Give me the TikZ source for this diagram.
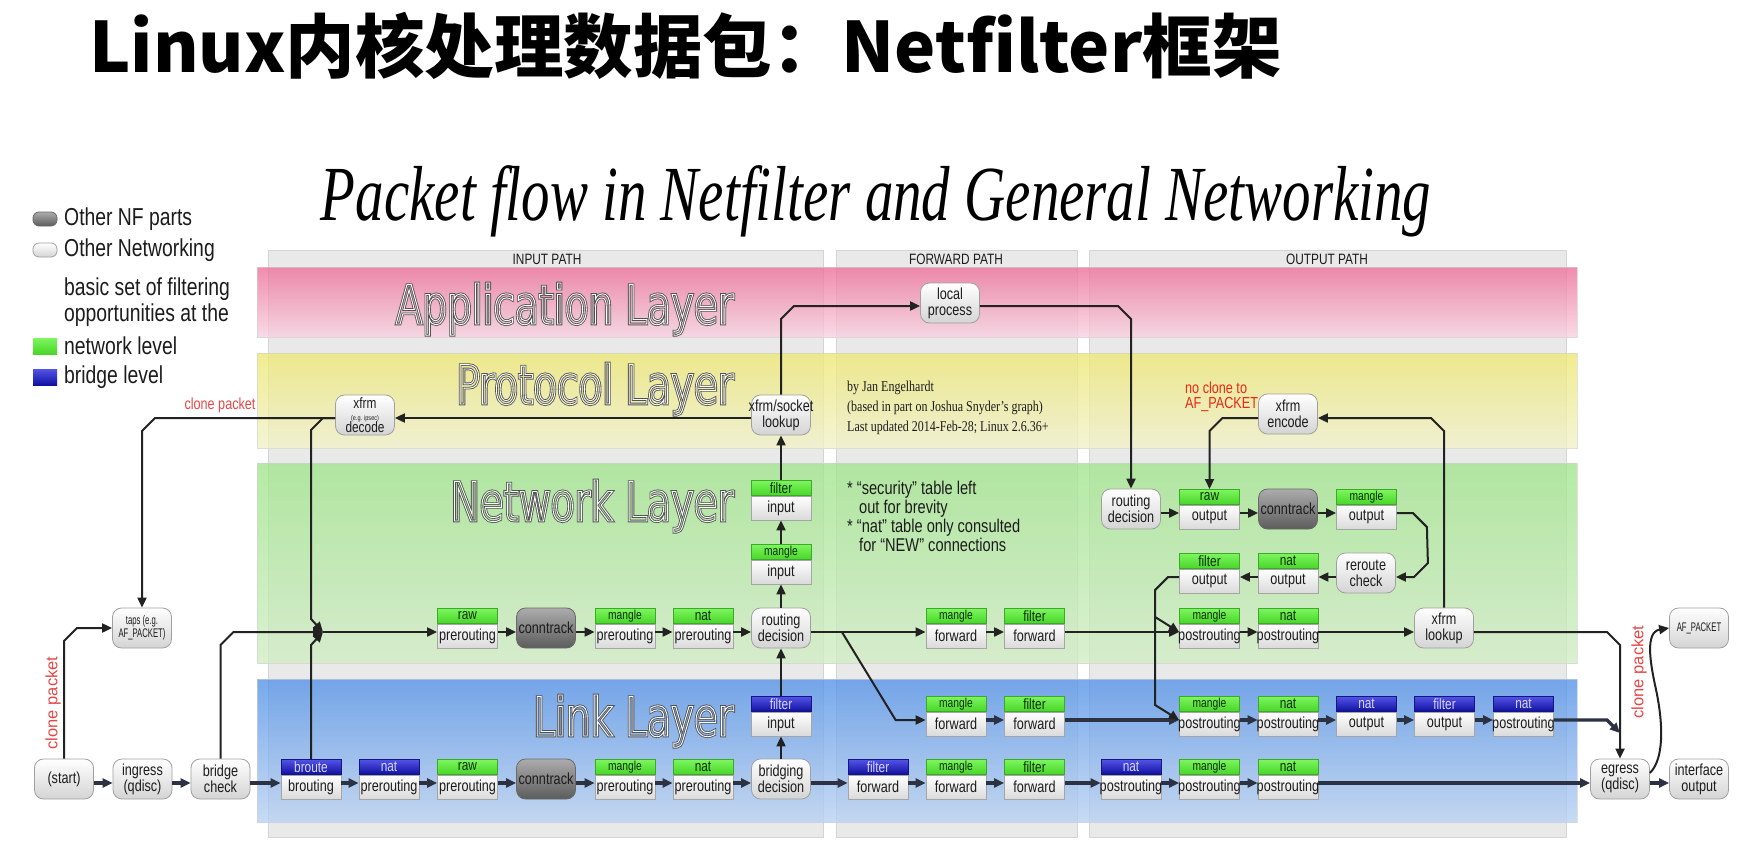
\documentclass[tikz,border=0pt]{standalone}
\usepackage{fontspec}
\setmainfont{Liberation Sans}[FakeStretch=0.79]
\newfontfamily\layerfont{DejaVu Sans}[FakeStretch=0.72]
\newfontfamily\plainsans{Liberation Sans}
\newfontfamily\serifc{Liberation Serif}[FakeStretch=0.8]
\newfontfamily\subfont{Liberation Serif}[FakeStretch=0.73]
\newfontfamily\cjk{Noto Sans CJK SC}
\usetikzlibrary{arrows.meta,positioning,calc}
\newcommand\setfs[2]{\fontsize{#1}{#2}\selectfont}
\newcommand\mgl{\setfs{13}{13}}
\newcommand\outl[1]{\rlap{\special{pdf:literal direct 1 Tr 2.6 w 0.32 0.32 0.32 RG}#1}\special{pdf:literal direct 1 Tr 0.9 w 1 1 1 RG}#1\special{pdf:literal direct 0 Tr 0.4 w}}
% body centre sits 4 below the row line, as in the reference
\newcommand\chainbox[6]{%
  \node[bodyb] (#1) at (#2,#3+4) {\makebox[52pt]{#5}};
  \node[#6, above=0pt of #1] (#1h) {\makebox[52pt]{#4}};}
\definecolor{linec}{RGB}{34,34,34}
\definecolor{linel}{RGB}{44,50,66}
\definecolor{clonered}{RGB}{228,72,72}
\definecolor{nored}{RGB}{236,40,20}
\definecolor{txt}{RGB}{28,28,28}
\definecolor{appT}{RGB}{237,112,154}
\definecolor{appB}{RGB}{248,210,224}
\definecolor{proT}{RGB}{237,232,117}
\definecolor{proB}{RGB}{242,242,204}
\definecolor{netT}{RGB}{162,229,142}
\definecolor{netB}{RGB}{210,237,198}
\definecolor{linT}{RGB}{86,148,232}
\definecolor{linB}{RGB}{186,210,242}
\definecolor{grT}{RGB}{125,246,95}
\definecolor{grB}{RGB}{72,214,40}
\definecolor{blT}{RGB}{84,84,232}
\definecolor{blB}{RGB}{16,16,160}
\definecolor{frame}{RGB}{233,233,233}
\definecolor{frameb}{RGB}{212,212,212}
\tikzset{
  ln/.style={draw=linec, line width=2pt},
  arr/.style={ln, -{Triangle[length=10pt,width=9pt]}},
  tarr/.style={arr, line width=3.2pt, draw=linel},
  pill/.style={rounded corners=9pt, draw={rgb,255:red,160;green,160;blue,160}, line width=0.8pt,
    top color=white, bottom color={rgb,255:red,212;green,212;blue,212},
    minimum width=59pt, minimum height=40pt, inner sep=0pt, align=center,
    font=\setfs{16}{16}, text=txt},
  dpill/.style={pill, top color={rgb,255:red,172;green,172;blue,172},
    bottom color={rgb,255:red,92;green,92;blue,92}, draw={rgb,255:red,105;green,105;blue,105}},
  bodyb/.style={rectangle, draw={rgb,255:red,165;green,165;blue,165}, line width=0.8pt,
    top color=white, bottom color={rgb,255:red,218;green,218;blue,218},
    minimum width=60pt, minimum height=24pt, inner sep=0pt, font=\setfs{16}{16}, text=txt},
  ghead/.style={rectangle, draw={rgb,255:red,60;green,170;blue,40}, line width=0.6pt,
    top color=grT, bottom color=grB, minimum width=60pt, minimum height=15pt,
    inner sep=0pt, font=\setfs{15}{15}, text={rgb,255:red,15;green,45;blue,10}},
  bhead/.style={ghead, draw={rgb,255:red,20;green,20;blue,130}, top color=blT, bottom color=blB,
    text={rgb,255:red,215;green,215;blue,255}},
  framebox/.style={fill=frame, draw=frameb, line width=1pt},
  band/.style={fill opacity=0.8, draw=black!18, draw opacity=0.6, line width=0.8pt},
  layerlbl/.style={anchor=base east, inner sep=0pt, font=\layerfont\setfs{54}{54}, text=black!55},
  pathlbl/.style={inner sep=0pt, font=\setfs{15}{15}, text=txt},
  legtxt/.style={anchor=west, inner sep=0pt, font=\setfs{24.5}{25.5}, text=txt, align=left},
}
\begin{document}
\begin{tikzpicture}[x=1pt,y=-1pt]
\useasboundingbox (0,0) rectangle (1751,864);
\fill[white] (0,0) rectangle (1751,864);
% row lines
\coordinate (rL1) at (0,783);
\coordinate (rL2) at (0,720);
\coordinate (rN1) at (0,632);
\coordinate (rN2) at (0,577);
\coordinate (rN3) at (0,513);

% titles
\node[anchor=base west, inner sep=0pt, font=\cjk\bfseries\setfs{69.5}{69.5}] (title) at (89,73) {Linux内核处理数据包：Netfilter框架};
\node[anchor=base, inner sep=0pt, font=\subfont\itshape\setfs{78}{78}] (subtitle) at (876,220) {Packet flow in Netfilter and General Networking};

% legend
\node[dpill, rounded corners=6pt, minimum width=24pt, minimum height=14pt] (legnf) at (45,219) {};
\node[pill, rounded corners=6pt, minimum width=24pt, minimum height=14pt] (legnet) at (45,250) {};
\node[rectangle, top color=grT, bottom color=grB, minimum width=24pt, minimum height=16pt, inner sep=0pt] (leggr) at (45,346) {};
\node[rectangle, top color=blT, bottom color=blB, minimum width=24pt, minimum height=16pt, inner sep=0pt] (legbl) at (45,377) {};
\node[legtxt] (lt1) at (64,219) {Other NF parts};
\node[legtxt] (lt2) at (64,250) {Other Networking};
\node[legtxt] (lt3) at (64,302) {basic set of filtering\\opportunities at the};
\node[legtxt] (lt4) at (64,346) {network level};
\node[legtxt] (lt5) at (64,377) {bridge level};

% path frames
\draw[framebox] (268,250) rectangle (823,837);
\draw[framebox] (836,250) rectangle (1077,837);
\draw[framebox] (1089,250) rectangle (1566,837);
\node[pathlbl] (ipath) at (547,259) {INPUT PATH};
\node[pathlbl] (fpath) at (956,259) {FORWARD PATH};
\node[pathlbl] (opath) at (1327,259) {OUTPUT PATH};

% layer bands
\path[band, top color=appT, bottom color=appB] (257,267) rectangle (1577,337);
\path[band, top color=proT, bottom color=proB] (257,353) rectangle (1577,448);
\path[band, top color=netT, bottom color=netB] (257,463) rectangle (1577,663);
\path[band, top color=linT, bottom color=linB] (257,679) rectangle (1577,822);

\node[layerlbl] (lapp) at (734,324) {\outl{Application Layer}};
\node[layerlbl] (lpro) at (734,404) {\outl{Protocol Layer}};
\node[layerlbl] (lnet) at (734,521) {\outl{Network Layer}};
\node[layerlbl] (llin) at (734,736) {\outl{Link Layer}};

% texts
\node[anchor=north west, align=left, inner sep=0pt, font=\serifc\setfs{15}{20}, text=txt] (credit) at (847,381)
  {by Jan Engelhardt\\(based in part on Joshua Snyder’s graph)\\Last updated 2014-Feb-28; Linux 2.6.36+};
\node[anchor=north west, align=left, inner sep=0pt, font=\setfs{18.5}{19}, text=txt] (notes) at (847,481)
  {* “security” table left\\\hspace*{12pt}out for brevity\\* “nat” table only consulted\\\hspace*{12pt}for “NEW” connections};
\node[anchor=north west, align=left, inner sep=0pt, font=\setfs{16}{15}, text=nored] (noclone) at (1185,382) {no clone to\\AF\_PACKET};
\node[inner sep=0pt, font=\setfs{16}{16}, text=clonered] (clone0) at (220,405) {clone packet};
\node[rotate=90, inner sep=0pt, font=\plainsans\setfs{16.5}{16.5}, text=clonered] (clone1) at (53,703) {clone packet};
\node[rotate=90, inner sep=0pt, font=\plainsans\setfs{16.5}{16.5}, text=clonered] (clone2) at (1639,672) {clone packet};

% ---------- nodes ----------
% link row 1
\node[pill] (start) at (64,779) {(start)};
\node[pill] (ingress) at (142.5,779) {ingress\\(qdisc)};
\node[pill] (bridge) at (220.5,779) {bridge\\check};
\chainbox{brout}{311}{783}{broute}{brouting}{bhead}
\chainbox{natpreB}{389}{783}{nat}{prerouting}{bhead}
\chainbox{rawpreL}{467.5}{783}{raw}{prerouting}{ghead}
\node[dpill] (ctL) at (546,779) {conntrack};
\chainbox{mglpreL}{625}{783}{\mgl mangle}{prerouting}{ghead}
\chainbox{natpreL}{703}{783}{nat}{prerouting}{ghead}
\node[pill] (bridging) at (781,779) {bridging\\decision};
\chainbox{fltfwdB}{878}{783}{filter}{forward}{bhead}
\chainbox{mglfwdL}{956}{783}{\mgl mangle}{forward}{ghead}
\chainbox{fltfwdL}{1034.5}{783}{filter}{forward}{ghead}
\chainbox{natpostB}{1131}{783}{nat}{postrouting}{bhead}
\chainbox{mglpostL}{1209.5}{783}{\mgl mangle}{postrouting}{ghead}
\chainbox{natpostL}{1288}{783}{nat}{postrouting}{ghead}
\node[pill] (egress) at (1620,779) {egress\\(qdisc)};
\node[pill] (ifout) at (1699,779) {interface\\output};
% link row 2
\chainbox{fltinB}{781}{720}{filter}{input}{bhead}
\chainbox{mglfwdM}{956}{720}{\mgl mangle}{forward}{ghead}
\chainbox{fltfwdM}{1034.5}{720}{filter}{forward}{ghead}
\chainbox{mglpostM}{1209.5}{720}{\mgl mangle}{postrouting}{ghead}
\chainbox{natpostM}{1288}{720}{nat}{postrouting}{ghead}
\chainbox{natoutB}{1366.5}{720}{nat}{output}{bhead}
\chainbox{fltoutB}{1444.5}{720}{filter}{output}{bhead}
\chainbox{natpostB2}{1523.5}{720}{nat}{postrouting}{bhead}
% network row
\node[pill, font={\setfs{12.5}{13}}] (taps) at (142,628) {\scalebox{0.78}[1]{taps (e.g.}\\\scalebox{0.78}[1]{AF\_PACKET)}};
\coordinate (J) at (323,632);
\chainbox{rawpreN}{467.5}{632}{raw}{prerouting}{ghead}
\node[dpill] (ctN) at (546,628) {conntrack};
\chainbox{mglpreN}{625}{632}{\mgl mangle}{prerouting}{ghead}
\chainbox{natpreN}{703}{632}{nat}{prerouting}{ghead}
\node[pill] (routeI) at (781,628) {routing\\decision};
\chainbox{mglfwdN}{956}{632}{\mgl mangle}{forward}{ghead}
\chainbox{fltfwdN}{1034.5}{632}{filter}{forward}{ghead}
\chainbox{mglpostN}{1209.5}{632}{\mgl mangle}{postrouting}{ghead}
\chainbox{natpostN}{1288}{632}{nat}{postrouting}{ghead}
\node[pill] (xlookup) at (1444,628) {xfrm\\lookup};
\node[pill, font={\setfs{12.5}{13}}] (afp) at (1699,628) {\scalebox{0.78}[1]{AF\_PACKET}};
% input column
\chainbox{mglin}{781}{568}{\mgl mangle}{input}{ghead}
\chainbox{fltin}{781}{504}{filter}{input}{ghead}
\node[pill] (lookup) at (781,415) {\makebox[50pt]{xfrm/socket}\\lookup};
\node[pill, font={\setfs{15}{15}}] (decode) at (365,415) {xfrm\\[-3pt]{\setfs{7}{7}(e.g. ipsec)}\\[-3pt]decode};
\node[pill] (local) at (950,303) {local\\process};
% output part
\node[pill] (routeO) at (1131,509) {routing\\decision};
\chainbox{rawout}{1209.5}{513}{raw}{output}{ghead}
\node[dpill] (ctO) at (1288,509) {conntrack};
\chainbox{mglout}{1366.5}{513}{\mgl mangle}{output}{ghead}
\chainbox{fltout}{1209.5}{577}{filter}{output}{ghead}
\chainbox{natout}{1288}{577}{nat}{output}{ghead}
\node[pill] (reroute) at (1366,573) {reroute\\check};
\node[pill] (encode) at (1288,414) {xfrm\\encode};

% ---------- connectors ----------
\foreach \a/\b in {start/ingress, ingress/bridge, bridge/brout, brout/natpreB, natpreB/rawpreL,
  rawpreL/ctL, ctL/mglpreL, mglpreL/natpreL, natpreL/bridging, bridging/fltfwdB, fltfwdB/mglfwdL,
  mglfwdL/fltfwdL, fltfwdL/natpostB, natpostB/mglpostL, mglpostL/natpostL, natpostL/egress, egress/ifout}
  \draw[tarr] (\a.east |- rL1) -- (\b.west |- rL1);
\foreach \a/\b in {mglfwdM/fltfwdM, fltfwdM/mglpostM, mglpostM/natpostM, natpostM/natoutB,
  natoutB/fltoutB, fltoutB/natpostB2}
  \draw[tarr] (\a.east |- rL2) -- (\b.west |- rL2);
\foreach \a/\b in {rawpreN/ctN, ctN/mglpreN, mglpreN/natpreN, natpreN/routeI, routeI/mglfwdN,
  mglfwdN/fltfwdN, fltfwdN/mglpostN, mglpostN/natpostN, natpostN/xlookup}
  \draw[arr] (\a.east |- rN1) -- (\b.west |- rN1);
\foreach \a/\b in {routeO/rawout, rawout/ctO, ctO/mglout}
  \draw[arr] (\a.east |- rN3) -- (\b.west |- rN3);
\draw[arr] (reroute.west |- rN2) -- (natout.east |- rN2);
\draw[arr] (natout.west |- rN2) -- (fltout.east |- rN2);
\draw[arr] (J) -- (rawpreN.west |- J);

% verticals in input column
\draw[arr] (bridging.north) -- (fltinB.south);
\draw[arr] (fltinBh.north) -- (routeI.south);
\draw[arr] (routeI.north) -- (mglin.south);
\draw[arr] (mglinh.north) -- (fltin.south);
\draw[arr] (fltinh.north) -- (lookup.south);
\coordinate (rP) at (0,418);
\draw[arr] (lookup.west |- rP) -- (decode.east |- rP);

% clone to taps
\draw[arr] (start.north) -- ($(start.north |- taps.west)+(0,13)$) -- ($(start.north |- taps.west)+(13,0)$) -- (taps.west);
% into junction
\draw[arr] (bridge.north) -- ($(bridge.north |- J)+(0,13)$) -- ($(bridge.north |- J)+(13,0)$) -- (J);
\draw[arr] (brouth.north) -- ($(J)+(-12,13)$) -- (J);
\draw[arr] (decode.west |- rP) -- (J |- rP) -- ($(J |- rP)+(-12,12)$) -- ($(J)+(-12,-13)$) -- (J);
\draw[arr] (decode.west |- rP) -- ($(taps.north |- rP)+(13,0)$) -- ($(taps.north |- rP)+(0,13)$) -- (taps.north);

% local process
\coordinate (rA) at (0,306);
\draw[arr] (lookup.north) -- ($(lookup.north |- rA)+(0,13)$) -- ($(lookup.north |- rA)+(13,0)$) -- (local.west |- rA);
\draw[arr] (local.east |- rA) -- ($(routeO.north |- rA)+(-13,0)$) -- ($(routeO.north |- rA)+(0,13)$) -- (routeO.north);

% reroute loop
\draw[arr] (mglout.east |- rN3) -- ++(16,0) -- ++(14,14) -- ($(reroute.east |- rN2)+(32,-14)$) -- ($(reroute.east |- rN2)+(18,0)$) -- (reroute.east |- rN2);

% filter output down to postrouting
\coordinate (fo1) at ($(mglpostN.west |- rN1)+(-24,-15)$);
\coordinate (fo2) at ($(mglpostM.west |- rL2)+(-24,-15)$);
\draw[arr] (fltout.west |- rN2) -- ++(-11,0) -- ++(-13,13) -- (fo1) -- (mglpostN.west |- rN1);
\draw[arr] (fo1) -- (fo2) -- (mglpostM.west |- rL2);

% forward branch
\draw[arr] ($(routeI.east |- rN1)+(31,0)$) -- ($(mglfwdM.west |- rL2)+(-30,0)$) -- (mglfwdM.west |- rL2);

% xfrm encode
\draw[arr] (xlookup.north) -- ($(xlookup.north |- rP)+(0,13)$) -- ($(xlookup.north |- rP)+(-13,0)$) -- (encode.east |- rP);
\draw[arr] (encode.west |- rP) -- ($(rawouth.north |- rP)+(13,0)$) -- ($(rawouth.north |- rP)+(0,13)$) -- (rawouth.north);

% to egress
\draw[arr] (xlookup.east |- rN1) -- ($(egress.north |- rN1)+(-13,0)$) -- ($(egress.north |- rN1)+(0,13)$) -- (egress.north);
\draw[tarr] (natpostB2.east |- rL2) -- ($(egress.north |- rL2)+(-13,0)$) -- ($(egress.north |- rL2)+(0,13)$);

% clone to AF_PACKET
\draw[arr] ($(egress.east)+(0,-6)$) .. controls ($(egress.east)+(16,-22)$) and ($(egress.east)+(12,-62)$) .. ($(egress.east)+(6,-90)$)
  .. controls ($(egress.east)+(0,-117)$) and ($(afp.west)+(-24,4)$) .. (afp.west);
\end{tikzpicture}
\end{document}
